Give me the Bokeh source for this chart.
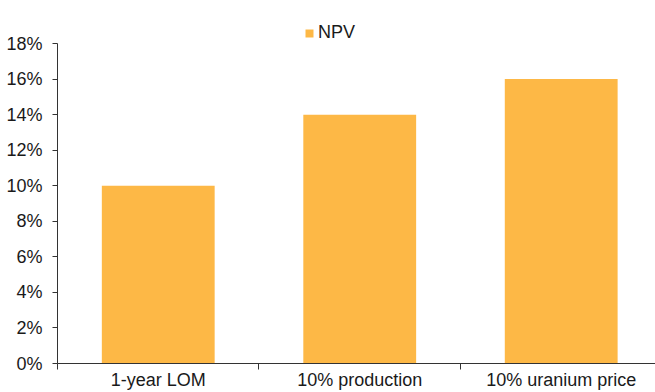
from bokeh.plotting import figure
from bokeh.models import (Range1d, FixedTicker, PrintfTickFormatter, Legend,
                          LegendItem, ColumnDataSource)
from bokeh.embed import file_html
from bokeh.resources import INLINE

# Sensitivity of NPV (%) to each scenario
scenarios = ["1-year LOM", "10% production", "10% uranium price"]
npv_pct = [10, 14, 16]
y_ticks = [0, 2, 4, 6, 8, 10, 12, 14, 16, 18]

BAR = "#FDB846"
FONT = "Liberation Sans"
TXT = "#1a1a1a"
FS = "18px"

centers = [i + 0.5 for i in range(len(scenarios))]
src = ColumnDataSource(dict(x=centers, top=npv_pct))

p = figure(width=655, height=392, output_backend="svg", toolbar_location=None,
           x_range=Range1d(0, 2.968), y_range=Range1d(0, 19.86),
           min_border_left=57, min_border_right=0, min_border_top=10,
           min_border_bottom=29)
p.outline_line_color = None
p.grid.visible = False
p.background_fill_color = "white"
p.border_fill_color = "white"

r = p.vbar(x="x", top="top", width=0.56, bottom=0, source=src,
           fill_color=BAR, line_color=None)

# x axis: labels centred on bars, tick marks between categories
xa = p.xaxis[0]
xa.ticker = FixedTicker(ticks=centers, minor_ticks=list(range(len(scenarios) + 1)))
xa.major_label_overrides = {c: s for c, s in zip(centers, scenarios)}
xa.major_tick_out = 0
xa.major_tick_in = 0
xa.minor_tick_out = 6
xa.minor_tick_in = 0
xa.major_label_standoff = 0
xa.axis_line_color = "#333333"
xa.minor_tick_line_color = "#333333"
xa.major_label_text_font = FONT
xa.major_label_text_font_size = FS
xa.major_label_text_color = TXT

ya = p.yaxis[0]
ya.ticker = FixedTicker(ticks=y_ticks, minor_ticks=[])
ya.formatter = PrintfTickFormatter(format="%d%%")
ya.bounds = (0, 18)
ya.major_tick_out = 5
ya.major_tick_in = 0
ya.minor_tick_out = 0
ya.minor_tick_in = 0
ya.major_label_standoff = 10
ya.axis_line_color = "#333333"
ya.major_tick_line_color = "#333333"
ya.major_label_text_font = FONT
ya.major_label_text_font_size = FS
ya.major_label_text_color = TXT

legend = Legend(items=[LegendItem(label="NPV", renderers=[r])],
                location=(247, 320), orientation="horizontal",
                glyph_width=10, glyph_height=10, label_standoff=4,
                label_height=16, padding=0, margin=0, spacing=0,
                border_line_color=None, background_fill_alpha=0,
                label_text_font=FONT, label_text_font_size=FS,
                label_text_color=TXT)
p.add_layout(legend)

open("out.html", "w").write(file_html(p, INLINE))
